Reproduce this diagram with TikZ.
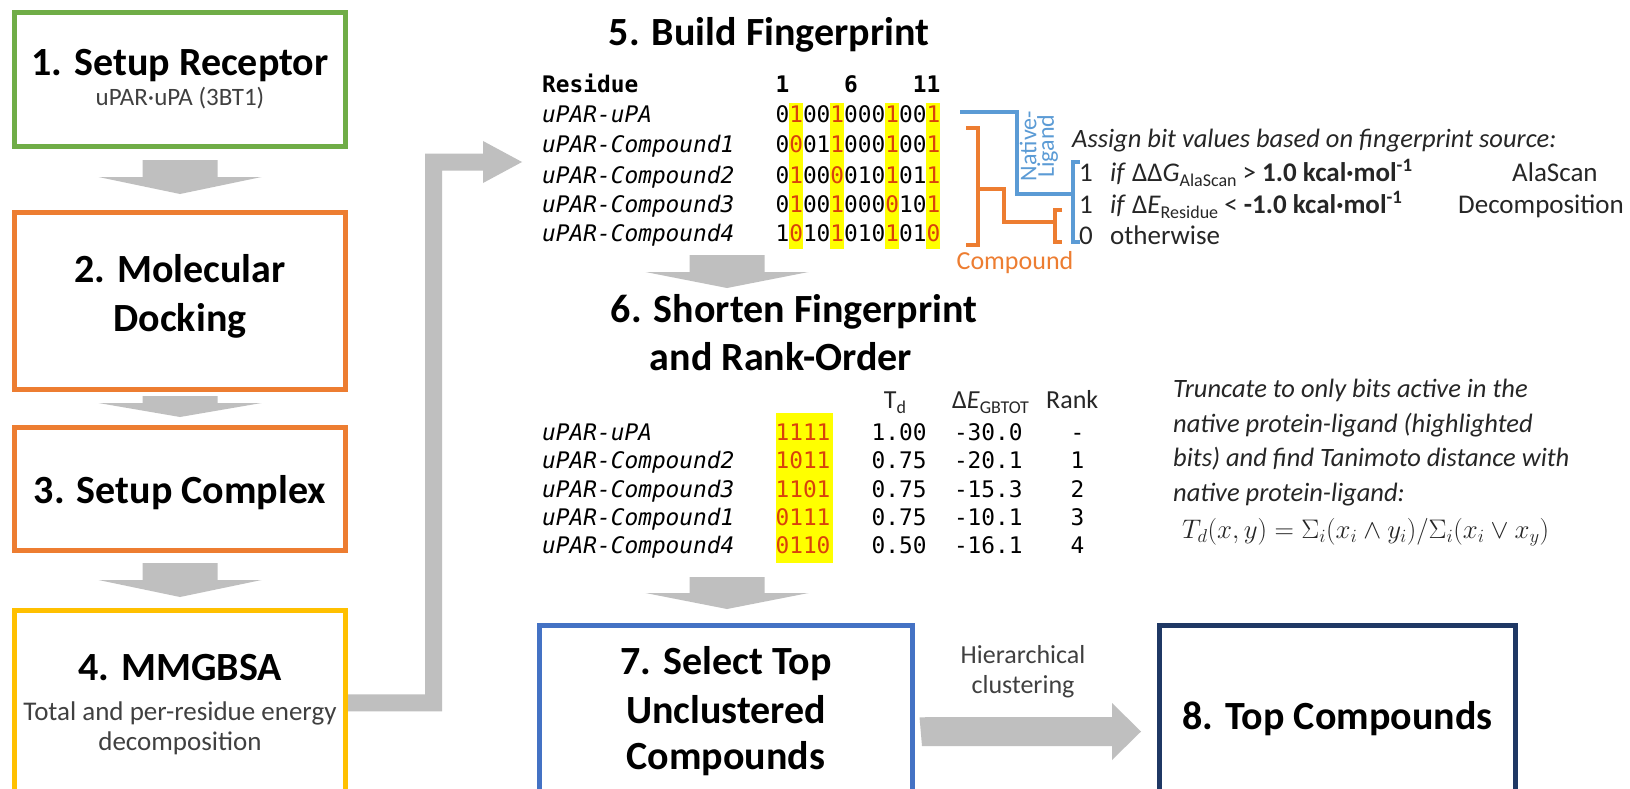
\documentclass[tikz,border=0pt]{standalone}
\usepackage{fontspec}
\setmainfont{Carlito}
\newfontfamily\codefont{DejaVu Sans Mono}
\usetikzlibrary{calc}

\definecolor{boxgreen}{HTML}{70AD47}
\definecolor{boxorange}{HTML}{ED7D31}
\definecolor{boxyellow}{HTML}{FFC000}
\definecolor{boxblue}{HTML}{4472C4}
\definecolor{boxnavy}{HTML}{1F3864}
\definecolor{arrowgrey}{HTML}{BFBFBF}
\definecolor{nativeblue}{HTML}{5B9BD5}
\definecolor{bitred}{HTML}{D9420B}
\definecolor{hlyellow}{HTML}{FFFF00}
\definecolor{subgrey}{HTML}{404040}
\definecolor{bodytext}{HTML}{262626}

% highlighted fingerprint bit
\newcommand{\hb}[1]{\textcolor{bitred}{#1}}
% upright subscript of a fixed size
\newcommand{\lowtext}[1]{\raisebox{-0.22em}{\fontsize{18}{18}\selectfont\upshape\mdseries #1}}
% width of one monospaced character and left edge of the tables
\def\cw{13.727}
\def\tx{542}

\begin{document}
\begin{tikzpicture}[x=1pt,y=-1pt,
  frame/.style={draw, line width=5pt, inner sep=0pt},
  ttl/.style={font=\fontsize{40}{46}\selectfont\bfseries, inner sep=0pt, anchor=base, text=black},
  sub/.style={font=\fontsize{25}{30}\selectfont, inner sep=0pt, anchor=base, text=subgrey},
  code/.style={font=\codefont\fontsize{22.8}{28}\selectfont, inner sep=0pt, anchor=base west, text=black},
  codeit/.style={code, font=\codefont\itshape\fontsize{22.8}{28}\selectfont},
  codebf/.style={code, font=\codefont\bfseries\fontsize{22.8}{28}\selectfont},
  note/.style={font=\fontsize{27}{34}\selectfont, inner sep=0pt, anchor=base west, text=bodytext},
  noteit/.style={note, font=\itshape\fontsize{26.5}{34}\selectfont},
  colhead/.style={font=\fontsize{26}{30}\selectfont, inner sep=0pt, anchor=base west, text=bodytext},
  hl/.style={fill=hlyellow},
  bracket/.style={line width=4.5pt, line cap=butt, line join=miter},
  blockarrow/.style={fill=arrowgrey},
  pics/downarr/.style 2 args={code={
    \fill[blockarrow] (-37.5,0) -- (37.5,0) -- (37.5,#1) -- (81.5,#1)
      -- (0,#1+#2) -- (-81.5,#1) -- (-37.5,#1) -- cycle;}},
]
\useasboundingbox (0,0) rectangle (1630,789);
\fill[white] (0,0) rectangle (1630,789);
\clip (0,0) rectangle (1630,789);

% ---------------- left column: steps 1-4 ----------------
\node[frame, draw=boxgreen,  minimum width=331pt, minimum height=134pt] (b1) at (180,79.5) {};
\node[frame, draw=boxorange, minimum width=331pt, minimum height=177pt] (b2) at (180,301) {};
\node[frame, draw=boxorange, minimum width=331pt, minimum height=123pt] (b3) at (180,489) {};
\node[frame, draw=boxyellow, minimum width=331pt, minimum height=184.5pt] (b4) at (180,702.75) {};

\node[ttl] (t1)  at (180,76)  {1. Setup Receptor};
\node[sub] (t1s) at (180,106) {uPAR·uPA (3BT1)};
\node[ttl] (t2a) at (180,282) {2. Molecular};
\node[ttl] (t2b) at (180,331) {Docking};
\node[ttl] (t3)  at (180,503) {3. Setup Complex};
\node[ttl] (t4)  at (180,680) {4. MMGBSA};
\node[sub, font=\fontsize{27}{30}\selectfont] (t4s) at (180,720) {Total and per-residue energy};
\node[sub, font=\fontsize{27}{30}\selectfont] (t4t) at (180,750) {decomposition};

\pic at (180,160) {downarr={17}{17}};
\pic at (180,396) {downarr={7}{14}};
\pic at (180,563) {downarr={17}{17}};

% elbow arrow from the MMGBSA step to the fingerprint table
\coordinate (fpin) at (522,162);
\fill[blockarrow] ($(b4.east)+(0,-8.5)$) -- (425,694.25) -- (425,153.5) -- (483,153.5)
  -- (483,141) -- (fpin) -- (483,183) -- (483,170.5) -- (442,170.5)
  -- (442,711.25) -- ($(b4.east)+(0,8.5)$) -- cycle;

% ---------------- step 5: fingerprint ----------------
\node[ttl] (t5) at (769,46) {5. Build Fingerprint};

\foreach \c in {18,21,25,28}
  \fill[hl] (\tx+\c*\cw,103) rectangle (\tx+\c*\cw+\cw,249);

\node[codebf] (reshead) at (\tx,93) {Residue};
\node[codebf] (poshead) at (\tx+17*\cw,93) {1\phantom{0000}6\phantom{0000}11};

\node[codeit] (r1) at (\tx,123) {uPAR-uPA};
\node[codeit] (r2) at (\tx,153) {uPAR-Compound1};
\node[codeit] (r3) at (\tx,183) {uPAR-Compound2};
\node[codeit] (r4) at (\tx,212) {uPAR-Compound3};
\node[codeit] (r5) at (\tx,241) {uPAR-Compound4};
\node[code] (f1) at (\tx+17*\cw,123) {0\hb{1}00\hb{1}000\hb{1}00\hb{1}};
\node[code] (f2) at (\tx+17*\cw,153) {0\hb{0}01\hb{1}000\hb{1}00\hb{1}};
\node[code] (f3) at (\tx+17*\cw,183) {0\hb{1}00\hb{0}010\hb{1}01\hb{1}};
\node[code] (f4) at (\tx+17*\cw,212) {0\hb{1}00\hb{1}000\hb{0}10\hb{1}};
\node[code] (f5) at (\tx+17*\cw,241) {1\hb{0}10\hb{1}010\hb{1}01\hb{0}};

% source brackets
\draw[bracket, nativeblue] (960,112) -- (1017,112) -- (1017,194) -- (1073,194);
\draw[bracket, nativeblue] (1080,162) -- (1073,162) -- (1073,242) -- (1080,242);
\draw[bracket, boxorange] (966,128) -- (978,128) -- (978,245) -- (966,245);
\draw[bracket, boxorange] (978,189) -- (1004,189) -- (1004,222) -- (1055,222);
\draw[bracket, boxorange] (1062,210) -- (1055,210) -- (1055,242) -- (1062,242);
\node[rotate=90, align=center, inner sep=0pt, text=nativeblue,
      font=\fontsize{24}{17.5}\selectfont] (native) at (1039,146) {Native-\\Ligand};
\node[inner sep=0pt, anchor=base, text=boxorange, font=\fontsize{26}{30}\selectfont]
      (cmpd) at (1015,269) {Compound};

\node[noteit] (assign) at (1072,147) {Assign bit values based on fingerprint source:};
\node[note] (v1) at (1079,181) {1};
\node[note] (v2) at (1079,213) {1};
\node[note] (v3) at (1079,244) {0};
\node[note] (c1) at (1110,181) {\textit{if} ΔΔ\textit{G}\lowtext{AlaScan} > \textbf{1.0 kcal·mol\textsuperscript{-1}}};
\node[note] (c2) at (1110,213) {\textit{if} Δ\textit{E}\lowtext{Residue} < \textbf{-1.0 kcal·mol\textsuperscript{-1}}};
\node[note] (c3) at (1110,244) {otherwise};
\node[note] (s1) at (1512,181) {AlaScan};
\node[note] (s2) at (1458,213) {Decomposition};

\pic at (727,255) {downarr={17}{16}};

% ---------------- step 6: shortened fingerprint ----------------
\node[ttl] (t6a) at (794,322) {6. Shorten Fingerprint};
\node[ttl] (t6b) at (781,370) {and Rank-Order};

\node[colhead, anchor=base] (hTd) at (895,408) {T\lowtext{d}};
\node[colhead] (hE) at (952,408) {Δ\textit{E}\lowtext{GBTOT}};
\node[colhead] (hR) at (1046,408) {Rank};

\fill[hl] (\tx+17*\cw+1,413) rectangle (\tx+21*\cw+2.5,563);

\node[codeit] (q1) at (\tx,440) {uPAR-uPA};
\node[codeit] (q2) at (\tx,468) {uPAR-Compound2};
\node[codeit] (q3) at (\tx,497) {uPAR-Compound3};
\node[codeit] (q4) at (\tx,525) {uPAR-Compound1};
\node[codeit] (q5) at (\tx,553) {uPAR-Compound4};
\foreach \y/\b/\t/\e/\r in {440/1111/1.00/-30.0/-, 468/1011/0.75/-20.1/1,
    497/1101/0.75/-15.3/2, 525/0111/0.75/-10.1/3, 553/0110/0.50/-16.1/4} {
  \node[code] at (\tx+17*\cw,\y) {\hb{\b}};
  \node[code] at (\tx+24*\cw,\y) {\t};
  \node[code] at (\tx+30*\cw,\y) {\e};
  \node[code] at (\tx+38.5*\cw,\y) {\r};
}

\node[noteit] (tr1) at (1173,397) {Truncate to only bits active in the};
\node[noteit] (tr2) at (1173,432) {native protein-ligand (highlighted};
\node[noteit] (tr3) at (1173,466) {bits) and find Tanimoto distance with};
\node[noteit] (tr4) at (1173,501) {native protein-ligand:};
\node[inner sep=0pt, anchor=base west, text=bodytext, scale=1.08, font=\fontsize{26}{30}\selectfont]
  (tani) at (1182,538) {$T_d(x,y)=\Sigma_i(x_i\wedge y_i)/\Sigma_i(x_i\vee x_y)$};

\pic at (727,577) {downarr={16}{16}};

% ---------------- steps 7 and 8 ----------------
\node[frame, draw=boxblue, minimum width=373pt, minimum height=169.5pt] (b7) at (726,710.25) {};
\node[frame, draw=boxnavy, minimum width=356pt, minimum height=169.5pt] (b8) at (1337.5,710.25) {};
\node[ttl] (t7a) at (726,674) {7. Select Top};
\node[ttl] (t7b) at (726,723) {Unclustered};
\node[ttl] (t7c) at (726,769) {Compounds};
\node[ttl] (t8)  at (1337.5,729) {8. Top Compounds};

\fill[blockarrow] ($(b7.east)+(4.5,7)$) -- (1112,717) -- (1112,703) -- (1141,731.5)
  -- (1112,760) -- (1112,746) -- (922,746) -- cycle;
\node[sub, font=\fontsize{26}{30}\selectfont] (hc1) at (1023,663) {Hierarchical};
\node[sub, font=\fontsize{26}{30}\selectfont] (hc2) at (1023,693) {clustering};
\end{tikzpicture}
\end{document}
